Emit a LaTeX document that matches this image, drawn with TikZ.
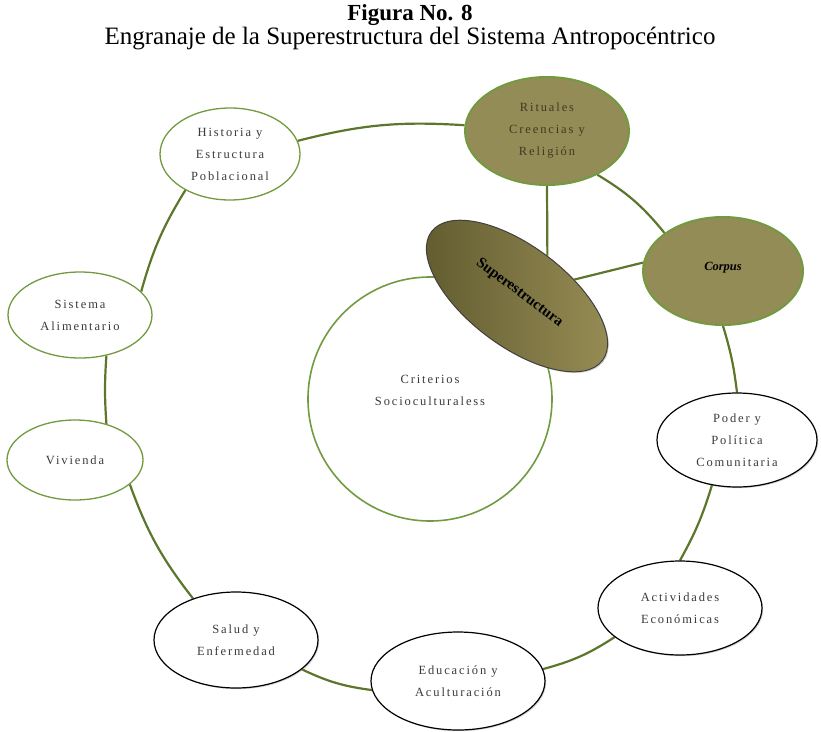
\documentclass[tikz,border=0pt]{standalone}
\usepackage{fontspec}
\setmainfont{Liberation Serif}
\newfontfamily\spacedserif[LetterSpace=15]{Liberation Serif}
\usetikzlibrary{shapes.geometric,shadows,calc,backgrounds}

\definecolor{olivefill}{RGB}{148,140,86}
\definecolor{leafline}{RGB}{114,154,64}
\definecolor{linkline}{RGB}{92,118,44}
\definecolor{inkgray}{RGB}{58,58,58}
\definecolor{oliveink}{RGB}{62,58,36}
\definecolor{supdark}{RGB}{96,90,46}
\definecolor{suplight}{RGB}{152,142,86}

\begin{document}
\begin{tikzpicture}[x=1pt,y=-1pt,
  txt/.style={align=center, font=\spacedserif\fontsize{12.5}{22}\selectfont, text=inkgray},
  oval/.style={txt, ellipse, inner sep=0pt},
  greenoval/.style={oval, draw=leafline, line width=1.3pt, fill=white},
  blackoval/.style={oval, draw=black, line width=1.2pt, fill=white,
    drop shadow={shadow xshift=1.2pt, shadow yshift=-1.2pt, opacity=0.35}},
  goldoval/.style={oval, draw=leafline, line width=2pt, fill=olivefill, text=oliveink},
  link/.style={draw=linkline, line width=2.2pt}]

\useasboundingbox (0,0) rectangle (821,731);

% heading
\node[anchor=base, inner sep=0pt, font=\bfseries\fontsize{23}{26}\selectfont] (title) at (410,20) {Figura No. 8};
\node[anchor=base, inner sep=0pt, font=\fontsize{25}{28}\selectfont] (subtitle) at (410,44)
  {Engranaje de la Superestructura del Sistema Antropocéntrico};

% outer ring of elements
\node[greenoval, minimum width=140, minimum height=92] (hist) at (230,154) {Historia y\\Estructura\\Poblacional};
\node[goldoval, minimum width=164, minimum height=108] (rit) at (547,131) {Rituales\\Creencias y\\Religión};
\node[goldoval, minimum width=160, minimum height=108, text=black,
      font=\bfseries\itshape\fontsize{12.5}{14}\selectfont] (cor) at (723,271) {\raisebox{9pt}{Corpus}};
\node[blackoval, minimum width=160, minimum height=94] (pod) at (737,440) {Poder y\\Política\\Comunitaria};
\node[blackoval, minimum width=164, minimum height=94] (act) at (680,608) {Actividades\\Económicas};
\node[blackoval, minimum width=174, minimum height=98] (edu) at (458,681) {Educación y\\Aculturación};
\node[blackoval, minimum width=164, minimum height=96] (sal) at (236,640) {Salud y\\Enfermedad};
\node[greenoval, minimum width=136, minimum height=80] (viv) at (75,460) {Vivienda};
\node[greenoval, minimum width=144, minimum height=86] (sis) at (80,315) {Sistema\\Alimentario};

% central criteria circle and the tilted superstructure
\node[circle, draw=leafline, line width=1.6pt, fill=white, minimum size=244, inner sep=0pt] (crit) at (430,399) {};
\node[txt] (critlabel) at ($(crit)+(0,-9)$) {Criterios\\Socioculturaless};
\node[ellipse, minimum width=214, minimum height=100, inner sep=0pt, rotate=-37,
      draw=black!75, line width=1pt, left color=supdark, right color=suplight,
      drop shadow={shadow xshift=1.2pt, shadow yshift=-1.2pt, opacity=0.35},
      font=\bfseries\fontsize{15}{17}\selectfont] (sup) at (517,296) {\raisebox{11pt}{Superestructura}};

% connectors behind the shapes
\begin{scope}[on background layer]
  \draw[link] (hist.11) to[bend left=9] (rit.176);
  \draw[link] (rit.319) to[bend left=10] (cor.147);
  \draw[link] (cor.south) to[bend left=5] (pod.north);
  \draw[link] (pod.241) to[bend left=6] (act.north);
  \draw[link] (act.204) to[bend left=9] (edu.8);
  \draw[link] (edu.186) to[bend left=9] (sal.336);
  \draw[link] (sal.136) to[bend left=9] (viv.336);
  \draw[link] (viv.49) to[bend left=4] (sis.303);
  \draw[link] (sis.21) to[bend left=8] (hist.219);
  \draw[link] (rit.south) -- (sup.north);
  \draw[link] (cor.174) -- (sup.53);
\end{scope}
\end{tikzpicture}
\end{document}
